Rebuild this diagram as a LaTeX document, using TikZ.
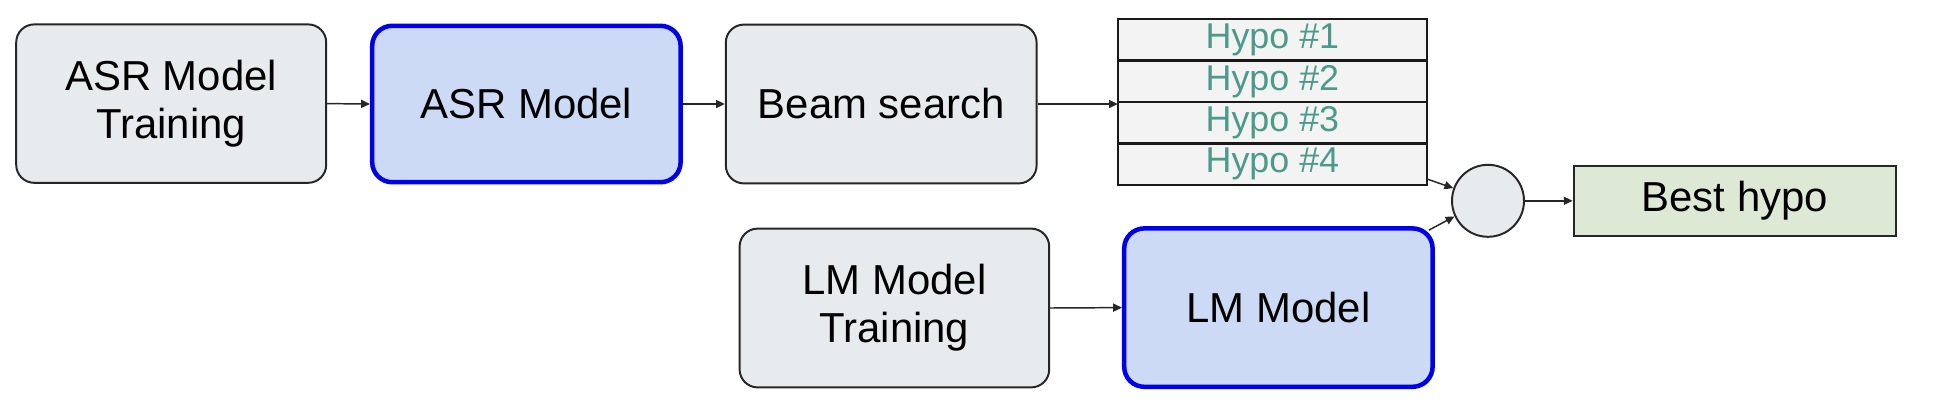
\documentclass[tikz,border=0pt]{standalone}
\usepackage{fontspec}
\setmainfont{Liberation Sans}
\usetikzlibrary{arrows.meta}

\definecolor{stepgray}{RGB}{232,235,237}
\definecolor{modelblue}{RGB}{204,218,245}
\definecolor{modeledge}{RGB}{0,0,235}
\definecolor{hypogray}{RGB}{243,243,243}
\definecolor{hypotext}{RGB}{76,154,138}
\definecolor{bestgreen}{RGB}{221,232,213}

\begin{document}
\begin{tikzpicture}[>={Triangle[length=0.22cm,width=0.2cm]}]
    \useasboundingbox (0,0) rectangle (48.65,-10.15);

    \begin{scope}[every node/.style={align=center, font=\fontsize{29.8}{34}\selectfont, inner sep=0pt}]
        \node[draw=black!85, line width=1.4pt, fill=stepgray, rounded corners=0.45cm,
              minimum width=7.75cm, minimum height=3.96cm] (asr_train) at (4.28, -2.59) {ASR Model\\Training};
        \node[draw=modeledge, line width=3.2pt, fill=modelblue, rounded corners=0.5cm,
              minimum width=7.71cm, minimum height=3.91cm] (asr_model) at (13.16, -2.6) {ASR Model};
        \node[draw=black!85, line width=1.4pt, fill=stepgray, rounded corners=0.45cm,
              minimum width=7.77cm, minimum height=3.97cm] (beam) at (22.03, -2.6) {Beam search};

        \node[draw=black!85, line width=1.4pt, fill=stepgray, rounded corners=0.45cm,
              minimum width=7.74cm, minimum height=3.97cm] (lm_train) at (22.36, -7.7) {LM Model\\Training};
        \node[draw=modeledge, line width=3.2pt, fill=modelblue, rounded corners=0.5cm,
              minimum width=7.71cm, minimum height=3.96cm] (lm_model) at (31.96, -7.69) {LM Model};

        \node[draw=black!85, line width=1.4pt, fill=bestgreen,
              minimum width=8.06cm, minimum height=1.76cm] (best) at (43.37, -5.02) {Best hypo};
        \node[draw=black!85, line width=1.4pt, fill=stepgray, circle,
              minimum size=1.8cm] (merge) at (37.2, -5.02) {};
    \end{scope}

    \begin{scope}[every node/.style={draw=black!90, line width=1.8pt, fill=hypogray, outer sep=0pt, inner sep=0pt,
                  minimum width=7.73cm, minimum height=1.0375cm, text=hypotext, font=\fontsize{25.5}{30}\selectfont}]
        \node (hypo_1) at (31.81, -0.994) {Hypo \#1};
        \node (hypo_2) at (31.81, -2.031) {Hypo \#2};
        \node (hypo_3) at (31.81, -3.069) {Hypo \#3};
        \node (hypo_4) at (31.81, -4.106) {Hypo \#4};
    \end{scope}

    \begin{scope}[every path/.style={draw=black!85, line width=1.05pt}]
        \path[->] (asr_train.east) -- (asr_model.west);
        \path[->] (asr_model.east) -- (beam.west);
        \path[->] (beam.east) -- (beam.east -| hypo_3.west);
        \path[->] (lm_train.east) -- (lm_model.west);
        \path[->] ([yshift=0.15cm]hypo_4.south east) -- (merge.160);
        \path[->] ([shift={(-0.15cm,-0.1cm)}]lm_model.north east) -- (merge.205);
        \path[->] (merge.east) -- (best.west);
    \end{scope}
\end{tikzpicture}
\end{document}
